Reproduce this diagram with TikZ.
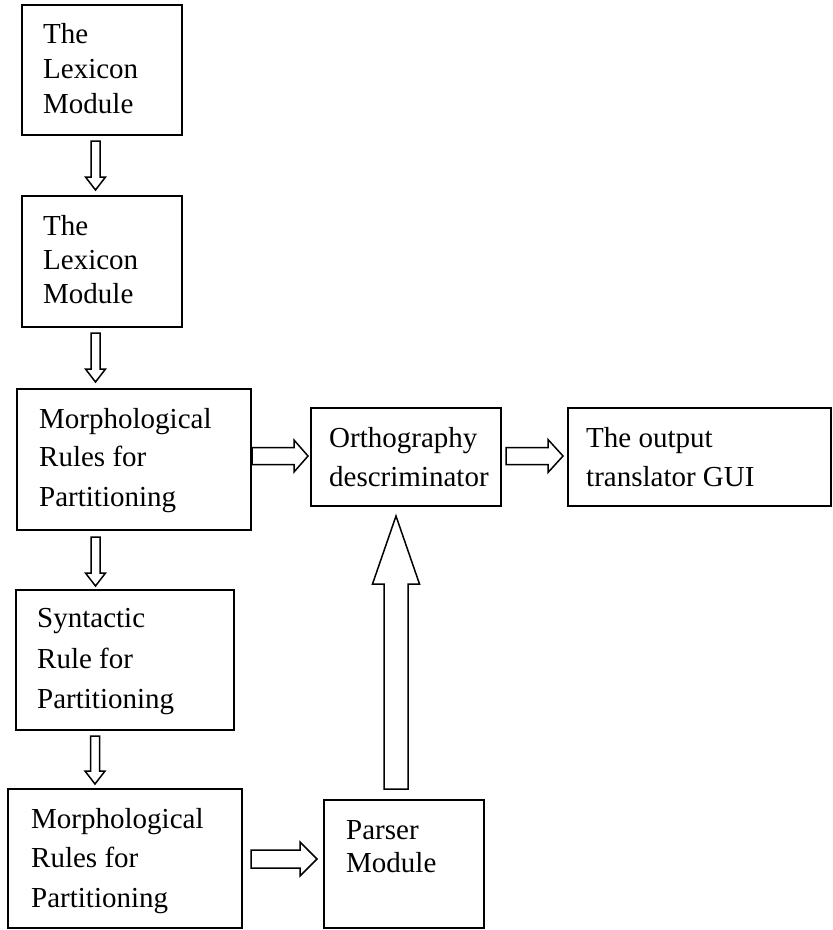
\documentclass[tikz,border=0pt]{standalone}
\usepackage{fontspec}
\setmainfont{Liberation Serif}
\usetikzlibrary{calc}
\tikzset{
  box/.style={draw, line width=1.6pt, rectangle, inner sep=0pt},
  txt/.style={anchor=base west, inner sep=0pt, font=\fontsize{29}{35}\selectfont},
  blk/.style={draw, line width=1.5pt, line join=miter, fill=white}
}
\newcommand\blockarrow[5]{%
  \draw[blk] let \p1=(#1), \p2=(#2), \n1={atan2(\y2-\y1,\x2-\x1)}, \n2={veclen(\x2-\x1,\y2-\y1)} in
    {[shift={(\p1)}, rotate=\n1]
     (0pt,{-#3*1pt}) -- ({(\n2-#5)*1pt},{-#3*1pt}) -- ({(\n2-#5)*1pt},{-#4*1pt}) -- ({\n2*1pt},0pt)
     -- ({(\n2-#5)*1pt},{#4*1pt}) -- ({(\n2-#5)*1pt},{#3*1pt}) -- (0pt,{#3*1pt}) -- cycle};
}
\begin{document}
\begin{tikzpicture}[x=1pt,y=-1pt]
\useasboundingbox (0,0) rectangle (833,930);
% boxes
\node[box, minimum width=160pt, minimum height=130pt] (b1) at (102,70) {};
\node[box, minimum width=160pt, minimum height=131pt] (b2) at (102,261.5) {};
\node[box, minimum width=234pt, minimum height=141pt] (b3) at (134,459.5) {};
\node[box, minimum width=218pt, minimum height=140pt] (b4) at (125,660) {};
\node[box, minimum width=234pt, minimum height=139pt] (b5) at (125,858.5) {};
\node[box, minimum width=190pt, minimum height=98pt] (ortho) at (406,457) {};
\node[box, minimum width=263pt, minimum height=98pt] (out) at (699.5,457) {};
\node[box, minimum width=160pt, minimum height=128pt] (parser) at (404,864) {};
% texts
\foreach \t [count=\i] in {The,Lexicon,Module}
  \node[txt] (t1\i) at (43,{43+35*(\i-1)}) {\t};
\foreach \t [count=\i] in {The,Lexicon,Module}
  \node[txt] (t2\i) at (43,{235+34*(\i-1)}) {\t};
\foreach \t/\y [count=\i] in {Morphological/428,Rules for/466,Partitioning/506}
  \node[txt] (t3\i) at (39,\y) {\t};
\foreach \t/\y [count=\i] in {Syntactic/627,Rule for/668,Partitioning/708}
  \node[txt] (t4\i) at (37,\y) {\t};
\foreach \t/\y [count=\i] in {Morphological/828,Rules for/867,Partitioning/907}
  \node[txt] (t5\i) at (31,\y) {\t};
\node[txt] (to1) at (329,447) {Orthography};
\node[txt] (to2) at (329,486) {descriminator};
\node[txt] (tu1) at (586,447) {The output};
\node[txt] (tu2) at (586,486) {translator GUI};
\node[txt] (tp1) at (346,839) {Parser};
\node[txt] (tp2) at (346,872) {Module};
% arrow end points
\coordinate (a1s) at (95.5,141); \coordinate (a1e) at (95.5,190);
\coordinate (a2s) at (95.5,333); \coordinate (a2e) at (95.5,382);
\coordinate (a3s) at (95.5,537); \coordinate (a3e) at (95.5,586);
\coordinate (a4s) at (95,736);   \coordinate (a4e) at (95,784);
\coordinate (a5s) at (252,456);  \coordinate (a5e) at (308,456);
\coordinate (a6s) at (506,456);  \coordinate (a6e) at (563,456);
\coordinate (a7s) at (396,789);  \coordinate (a7e) at (396,516);
\coordinate (a8s) at (251,859);  \coordinate (a8e) at (317,859);
\blockarrow{a1s}{a1e}{4.5}{10}{13}
\blockarrow{a2s}{a2e}{4.5}{10}{13}
\blockarrow{a3s}{a3e}{4.5}{10}{13}
\blockarrow{a4s}{a4e}{4.5}{10}{13}
\blockarrow{a5s}{a5e}{8.5}{16}{14}
\blockarrow{a6s}{a6e}{8.5}{16.5}{15}
\blockarrow{a7s}{a7e}{12}{23.5}{68}
\blockarrow{a8s}{a8e}{9}{17}{17}
\end{tikzpicture}
\end{document}
